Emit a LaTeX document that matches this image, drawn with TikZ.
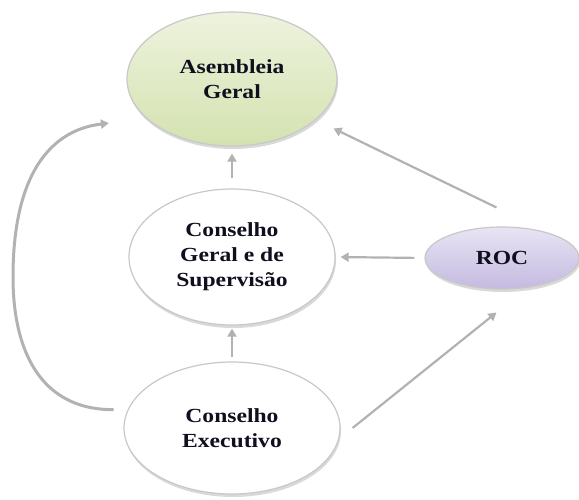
\documentclass[tikz,border=0pt]{standalone}
\usepackage{fontspec}
\setmainfont{Liberation Serif}[FakeStretch=1.18]
\usetikzlibrary{shapes.geometric,arrows.meta,shadows}

\definecolor{arrowgray}{RGB}{178,178,178}
\definecolor{rimgray}{RGB}{200,200,200}
\definecolor{agtop}{RGB}{238,243,222}
\definecolor{agbot}{RGB}{212,226,176}
\definecolor{roctop}{RGB}{232,228,244}
\definecolor{rocbot}{RGB}{196,186,224}
\definecolor{labeltext}{RGB}{15,15,30}

\tikzset{
    organ/.style={ellipse, draw=rimgray, line width=1.2pt, inner sep=0pt,
        align=center, text=labeltext,
        font=\fontsize{20}{25}\selectfont\bfseries,
        drop shadow={opacity=0.3, shadow xshift=1pt, shadow yshift=-3pt}},
    link/.style={draw=arrowgray, line width=2.2pt,
        -{Triangle[length=8pt,width=9pt]}},
}

\begin{document}
\begin{tikzpicture}[x=1pt, y=-1pt]
        \useasboundingbox (0, 0) rectangle (579, 500);

        % Draw the governing bodies
        \node[organ, minimum width=210pt, minimum height=134pt,
            top color=agtop, bottom color=agbot] (ag) at (232, 79) {Asembleia\\Geral};
        \node[organ, fill=white, minimum width=206pt, minimum height=136pt] (cgs) at (232, 257) {Conselho\\Geral e de\\Supervisão};
        \node[organ, fill=white, minimum width=216pt, minimum height=132pt] (ce) at (232, 428) {Conselho\\Executivo};
        \node[organ, minimum width=154pt, minimum height=62pt,
            top color=roctop, bottom color=rocbot] (roc) at (502, 258) {ROC};

        % Add the reporting arrows
        \draw[link, shorten <=10pt, shorten >=7pt] (cgs.north) -- (ag.south);
        \draw[link, shorten <=4pt, shorten >=3pt] (ce.north) -- (cgs.south);
        \draw[link, shorten <=10pt, shorten >=5pt] (roc.west) -- (cgs.east);
        \draw[link, shorten >=19.5pt] ([yshift=19pt]roc.100) -- (ag.-26);
        \draw[link] ([xshift=12pt]ce.east) -- ([yshift=-23pt]roc.-100);
        \draw[link, line width=3pt, shorten <=14pt, shorten >=38pt] (ce.170)
            .. controls (40, 410) and (13, 350) .. (13, 277)
            .. controls (13, 175) and (50, 130) .. (ag.205);
    \end{tikzpicture}
\end{document}
